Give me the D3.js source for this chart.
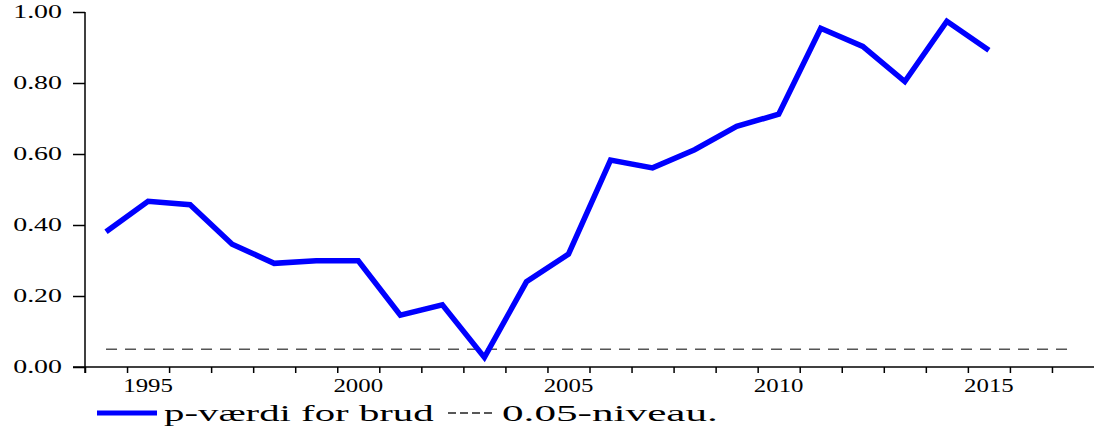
<!DOCTYPE html>
<html>
<head>
<meta charset="utf-8">
<script src="https://cdn.jsdelivr.net/npm/d3@7"></script>
<style>
  body { margin: 0; background: #fff; }
  svg { display: block; }
</style>
</head>
<body>
<svg width="1094" height="429"></svg>
<script>
// data
const years = [1994, 1995, 1996, 1997, 1998, 1999, 2000, 2001, 2002, 2003, 2004,
  2005, 2006, 2007, 2008, 2009, 2010, 2011, 2012, 2013, 2014, 2015];
const pValues = [0.381, 0.467, 0.457, 0.346, 0.292, 0.299, 0.299, 0.146, 0.175, 0.027, 0.240,
  0.318, 0.583, 0.561, 0.612, 0.678, 0.712, 0.954, 0.903, 0.804, 0.974, 0.892];
const level = 0.05;
const levelYears = [1994, 2017];
const yTicks = [0, 0.2, 0.4, 0.6, 0.8, 1.0];
const xTicks = d3.range(1994, 2018);
const xLabels = [1995, 2000, 2005, 2010, 2015];
const legendLabels = ["p-værdi for brud", "0.05-niveau."];

const svg = d3.select("svg"),
  width = +svg.attr("width"),
  height = +svg.attr("height");

const serif = "'Liberation Serif', serif";

// scales: each year is a band, points sit in the middle of it
const x = d3.scaleLinear().domain([1994, 2018]).range([85, 1094]);
const y = d3.scaleLinear().domain([0, 1]).range([367, 12]);
const mid = yr => x(yr + 0.5);

// the original font is drawn wide, so stretch the text
const yTickScale = 1.55;
const xTickScale = 1.38;
const legendScale = [1.7, 1.8];

// y axis
const yAxis = svg.append("g")
  .attr("transform", "translate(85,0)")
  .call(d3.axisLeft(y).tickValues(yTicks).tickFormat(d3.format(".2f")).tickSize(12).tickSizeOuter(0).tickPadding(11));
yAxis.select(".domain").remove();
yAxis.selectAll("line").attr("stroke", "#000").attr("stroke-width", 1.5);
yAxis.selectAll("text")
  .style("font-family", serif)
  .style("font-size", "18px")
  .attr("x", -23 / yTickScale)
  .attr("transform", `scale(${yTickScale},1)`);

// x axis
const xAxis = svg.append("g")
  .attr("transform", "translate(0,367)")
  .call(d3.axisBottom(x).tickValues(xTicks).tickFormat("").tickSize(6).tickSizeOuter(0));
xAxis.select(".domain").remove();
xAxis.selectAll("line").attr("stroke", "#000").attr("stroke-width", 1.5);

// axis lines
svg.append("line")
  .attr("x1", 73).attr("x2", width)
  .attr("y1", y(0)).attr("y2", y(0))
  .attr("stroke", "#000").attr("stroke-width", 1.5);
svg.append("line")
  .attr("x1", 85).attr("x2", 85)
  .attr("y1", y(1)).attr("y2", y(0) + 6)
  .attr("stroke", "#000").attr("stroke-width", 1.5);

// year labels in the middle of their band
svg.append("g")
  .selectAll("text")
  .data(xLabels)
  .join("text")
  .attr("transform", d => `translate(${mid(d)},392) scale(${xTickScale},1)`)
  .attr("text-anchor", "middle")
  .style("font-family", serif)
  .style("font-size", "18px")
  .text(d => d);

// 0.05 level
svg.append("line")
  .attr("x1", mid(levelYears[0])).attr("x2", mid(levelYears[1]))
  .attr("y1", y(level)).attr("y2", y(level))
  .attr("stroke", "#555")
  .attr("stroke-width", 1.5)
  .attr("stroke-dasharray", "11,8");

// p-value line
const line = d3.line()
  .x((d, i) => mid(years[i]))
  .y(d => y(d));

svg.append("path")
  .datum(pValues)
  .attr("d", line)
  .attr("fill", "none")
  .attr("stroke", "#0000ff")
  .attr("stroke-width", 5.5)
  .attr("stroke-linejoin", "miter");

// legend
const legend = svg.append("g").attr("class", "legend");
legend.append("line")
  .attr("x1", 97).attr("x2", 157)
  .attr("y1", 413).attr("y2", 413)
  .attr("stroke", "#0000ff")
  .attr("stroke-width", 5);
legend.append("line")
  .attr("x1", 448).attr("x2", 494)
  .attr("y1", 413).attr("y2", 413)
  .attr("stroke", "#222")
  .attr("stroke-width", 1.5)
  .attr("stroke-dasharray", "8,4");

const legendX = [164, 502];
legend.selectAll("text")
  .data(legendLabels)
  .join("text")
  .attr("transform", (d, i) => `translate(${legendX[i]},421) scale(${legendScale[i]},1)`)
  .style("font-family", serif)
  .style("font-size", "24px")
  .text(d => d);
</script>
</body>
</html>
